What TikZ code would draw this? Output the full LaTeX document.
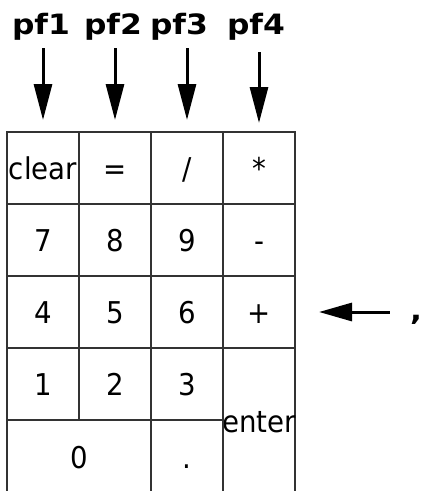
\documentclass[tikz,border=0pt]{standalone}
\usepackage{fontspec}
\setmainfont{DejaVu Sans}[FakeStretch=0.92]
\newfontfamily\labelfont{DejaVu Sans}[FakeStretch=1.12]
\usetikzlibrary{arrows.meta}
\definecolor{gridline}{HTML}{333333}
\begin{document}
\begin{tikzpicture}[x=1pt,y=-1pt,
  key/.style={draw=gridline, line width=1.5pt, minimum width=72pt, minimum height=72pt,
    inner sep=0pt, outer sep=0pt, text height=22pt, text depth=0pt,
    font=\fontsize{30}{34}\selectfont},
  pflabel/.style={inner sep=0pt, anchor=base, font=\fontsize{28}{34}\labelfont\bfseries},
  bigarrow/.style={line width=3pt, -{Triangle[length=36pt,width=18pt]}}]
  \useasboundingbox (0,0) rectangle (422,491);
  % keypad: row 1
  \node[key] (clear) at (43,168) {clear};
  \node[key] (eq)    at (115,168) {=};
  \node[key] (div)   at (187,168) {/};
  \node[key] (mul)   at (259,168) {*};
  % row 2
  \node[key] (k7)    at (43,240) {7};
  \node[key] (k8)    at (115,240) {8};
  \node[key] (k9)    at (187,240) {9};
  \node[key] (minus) at (259,240) {-};
  % row 3
  \node[key] (k4)    at (43,312) {4};
  \node[key] (k5)    at (115,312) {5};
  \node[key] (k6)    at (187,312) {6};
  \node[key] (plus)  at (259,312) {+};
  % row 4
  \node[key] (k1)    at (43,384) {1};
  \node[key] (k2)    at (115,384) {2};
  \node[key] (k3)    at (187,384) {3};
  \node[key, minimum height=146pt] (enter) at (259,421) {\makebox[60pt]{enter}};
  % row 5 (runs past the lower edge)
  \node[key, minimum width=144pt, minimum height=74pt] (k0) at (79,457) {0};
  \node[key, minimum height=74pt] (dot) at (187,457) {.};
  % function key labels
  \node[pflabel] (pf1) at (41,34) {pf1};
  \node[pflabel] (pf2) at (113,34) {pf2};
  \node[pflabel] (pf3) at (179,34) {pf3};
  \node[pflabel] (pf4) at (256,34) {pf4};
  \draw[bigarrow, shorten <=14pt, shorten >=12pt] (clear.north |- pf1.base) -- (clear.north);
  \draw[bigarrow, shorten <=14pt, shorten >=12pt] (eq.north |- pf2.base) -- (eq.north);
  \draw[bigarrow, shorten <=14pt, shorten >=12pt] (div.north |- pf3.base) -- (div.north);
  \draw[bigarrow, shorten <=18pt, shorten >=9pt] (mul.north |- pf4.base) -- (mul.north);
  % comma key
  \node[pflabel] (comma) at (416,320) {,};
  \draw[bigarrow, -{Triangle[length=33pt,width=18pt]}, shorten <=20pt, shorten >=24pt]
    (comma.west |- plus.east) -- (plus.east);
\end{tikzpicture}
\end{document}
